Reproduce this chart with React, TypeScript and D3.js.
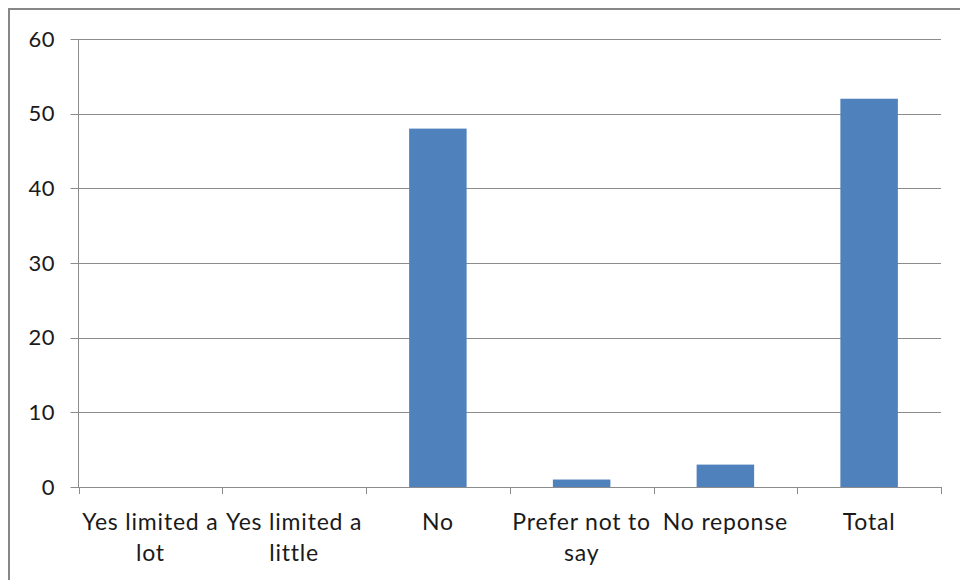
import React, { useEffect, useRef } from "react";
import * as d3 from "d3";

const categories: string[] = [
  "Yes limited a lot",
  "Yes limited a little",
  "No",
  "Prefer not to say",
  "No reponse",
  "Total",
];
const values: number[] = [0, 0, 48, 1, 3, 52];
const yTicks: number[] = [0, 10, 20, 30, 40, 50, 60];

const W = 960;
const H = 580;
const FONT = "Lato, 'Open Sans', sans-serif";

export default function App() {
  const ref = useRef<SVGSVGElement | null>(null);

  useEffect(() => {
    const svg = d3.select(ref.current);
    svg.selectAll("*").remove();

    const left = 78.5, right = 941, top = 39, bottom = 487;
    const x = d3.scaleBand<string>().domain(categories).range([left, right]).paddingInner(0).paddingOuter(0);
    const y = d3.scaleLinear().domain([0, 60]).range([bottom, top]);

    // outer border
    svg.append("rect").attr("x", 9).attr("y", 9).attr("width", W + 20).attr("height", H + 20)
      .attr("fill", "#fff").attr("stroke", "#878787").attr("stroke-width", 2);

    // gridlines
    svg.append("g").selectAll("line").data(yTicks.filter((t) => t > 0)).join("line")
      .attr("x1", left - 8).attr("x2", right)
      .attr("y1", (d) => Math.round(y(d)) + 0.5).attr("y2", (d) => Math.round(y(d)) + 0.5)
      .attr("stroke", "#8c8c8c").attr("stroke-width", 1);

    // bars
    const bw = x.bandwidth() * 0.4;
    svg.append("g").selectAll("rect").data(values).join("rect")
      .attr("x", (_, i) => (x(categories[i]) as number) + (x.bandwidth() - bw) / 2)
      .attr("width", bw)
      .attr("y", (d) => y(d))
      .attr("height", (d) => y(0) - y(d))
      .attr("fill", "#4F81BD");

    // y axis line
    svg.append("line").attr("x1", left).attr("x2", left).attr("y1", top).attr("y2", bottom)
      .attr("stroke", "#8c8c8c").attr("stroke-width", 1);
    // x axis line
    svg.append("line").attr("x1", left - 8).attr("x2", right).attr("y1", bottom + 0.5).attr("y2", bottom + 0.5)
      .attr("stroke", "#8c8c8c").attr("stroke-width", 1);
    // x ticks at category boundaries
    const bounds = categories.map((c) => x(c) as number).concat([right]);
    svg.append("g").selectAll("line").data(bounds).join("line")
      .attr("x1", (d) => Math.round(d) + 0.5).attr("x2", (d) => Math.round(d) + 0.5)
      .attr("y1", bottom).attr("y2", bottom + 7)
      .attr("stroke", "#8c8c8c").attr("stroke-width", 1);

    // y labels
    svg.append("g").selectAll("text").data(yTicks).join("text")
      .attr("x", 55).attr("y", (d) => y(d)).attr("dy", "0.35em")
      .attr("text-anchor", "end").attr("font-family", FONT).attr("font-size", 22)
      .attr("letter-spacing", 0.5).attr("fill", "#1a1a1a")
      .text((d) => String(d));

    // x labels with wrap
    const FS = 23;
    const LS = 0.8;
    const canvas = document.createElement("canvas");
    const ctx = canvas.getContext("2d")!;
    ctx.font = `${FS}px ${FONT}`;
    const measure = (s: string) => ctx.measureText(s).width + LS * s.length;
    const maxW = x.bandwidth() - 2;
    const wrap = (s: string) => {
      const words = s.split(" ");
      const lines: string[] = [];
      let cur = "";
      for (const w of words) {
        const t = cur ? cur + " " + w : w;
        if (measure(t) > maxW && cur) {
          lines.push(cur);
          cur = w;
        } else cur = t;
      }
      if (cur) lines.push(cur);
      return lines;
    };
    const lg = svg.append("g");
    categories.forEach((c) => {
      const cx = (x(c) as number) + x.bandwidth() / 2;
      const t = lg.append("text").attr("x", cx).attr("y", 530).attr("text-anchor", "middle")
        .attr("font-family", FONT).attr("font-size", FS).attr("letter-spacing", LS).attr("fill", "#1a1a1a");
      wrap(c).forEach((ln, i) => {
        t.append("tspan").attr("x", cx).attr("dy", i === 0 ? 0 : 31).text(ln);
      });
    });
  }, []);

  return <svg ref={ref} width={W} height={H} style={{ display: "block", position: "absolute", left: 0, top: 0 }} />;
}
